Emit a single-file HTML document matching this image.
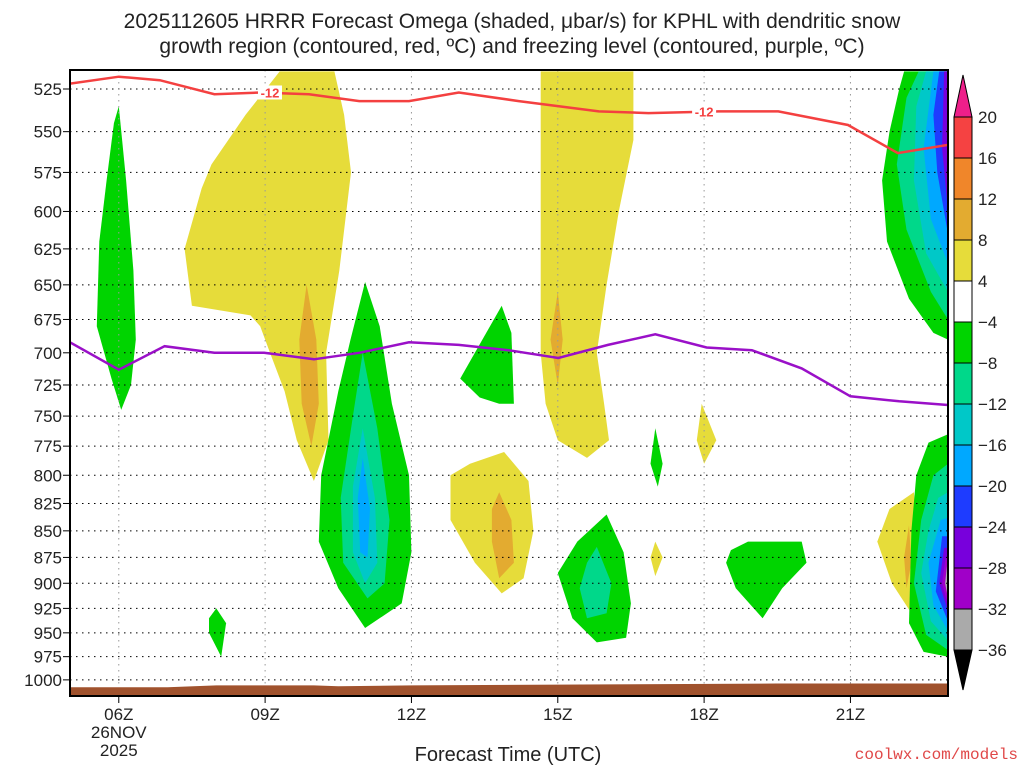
<!DOCTYPE html>
<html><head><meta charset="utf-8"><style>
body{margin:0;background:#fff;width:1024px;height:768px;overflow:hidden}
svg{display:block;font-family:"Liberation Sans",sans-serif}
</style></head><body>
<svg id="c" width="1024" height="768" viewBox="0 0 1024 768"></svg>
<script>
const yTicks=[525,550,575,600,625,650,675,700,725,750,775,800,825,850,875,900,925,950,975,1000];
const xTickHours=[6,9,12,15,18,21];
const xTickLabels=["06Z","09Z","12Z","15Z","18Z","21Z"];
const levels=[20,16,12,8,4,-4,-8,-12,-16,-20,-24,-28,-32,-36];
const colors=["#f54242","#f0862a","#e3ab30","#e6dc3a","#ffffff","#00d400","#00d88a","#00c8c8","#00a8ff","#1e3cff","#7800dc","#a000c8","#aaaaaa"];
const redHours=[5,6,6.84,7.96,8.9,9.9,10.93,11.95,12.97,14.2,15.84,16.86,18.3,19.52,20.95,21.97,23];
const redP=[522,518,520,528,527,528,532,532,527,532,538,539,538,538,546,563,558];
const purHours=[5,6,6.94,7.96,8.98,10,10.93,11.95,12.97,13.99,15.01,16.03,17.0,18.05,18.98,20,21,22,23];
const purP=[692,713,695,700,700,705,700,692,694,698,704,694,686,696,698,712,734,738,741];
const groundHours=[5,7,8,10,10.5,12,16,19.5,23];
const groundP=[1008,1008,1006,1006,1007,1006,1005,1004,1004];
// shaded omega regions: [colorIndex, [[hour,pressure],...]]
const regions=[
[5,[[6.0,535],[6.15,580],[6.3,640],[6.35,690],[6.25,725],[6.05,745],[5.85,720],[5.55,680],[5.6,620],[5.75,580],[5.9,545]]],
[3,[[9.5,515],[10.42,515],[10.62,540],[10.76,575],[10.52,640],[10.25,700],[10.3,770],[10.0,805],[9.65,770],[9.4,730],[9.1,700],[8.9,680],[8.7,672],[7.5,665],[7.35,625],[7.7,585],[7.9,570],[8.6,540],[9.3,515]]],
[2,[[9.85,650],[10.05,690],[10.1,740],[9.95,775],[9.75,740],[9.7,690]]],
[5,[[11.05,648],[11.35,680],[11.6,740],[11.95,800],[12.0,870],[11.8,920],[11.05,945],[10.5,905],[10.1,860],[10.15,800],[10.5,730],[10.75,690]]],
[6,[[11.0,700],[11.3,760],[11.55,840],[11.45,900],[11.1,915],[10.6,880],[10.55,820],[10.8,750]]],
[7,[[11.0,760],[11.25,820],[11.3,880],[11.05,900],[10.8,870],[10.8,810]]],
[8,[[11.0,785],[11.15,830],[11.1,875],[10.95,870],[10.9,820]]],
[5,[[8.0,925],[8.2,940],[8.1,975],[7.85,950],[7.85,935]]],
[3,[[13.2,790],[13.9,780],[14.4,805],[14.5,850],[14.3,895],[13.85,910],[13.3,880],[12.8,840],[12.8,800]]],
[2,[[13.8,815],[14.05,840],[14.1,880],[13.8,895],[13.65,860],[13.65,830]]],
[5,[[13.85,665],[14.05,685],[14.1,740],[13.8,740],[13.4,735],[13.0,720],[13.3,700]]],
[3,[[14.65,515],[16.55,515],[16.55,555],[16.25,600],[16.0,650],[15.8,700],[15.95,740],[16.05,770],[15.6,785],[15.0,770],[14.75,740],[14.65,700]]],
[2,[[15.0,655],[15.1,690],[15.0,725],[14.85,690]]],
[5,[[16.0,835],[16.35,870],[16.5,920],[16.4,955],[15.8,960],[15.3,935],[15.0,890],[15.4,860]]],
[6,[[15.8,865],[16.1,900],[16.0,930],[15.6,935],[15.45,905],[15.6,880]]],
[5,[[17.0,760],[17.15,790],[17.05,810],[16.9,790]]],
[3,[[17.0,860],[17.15,875],[17.0,893],[16.9,875]]],
[3,[[17.95,740],[18.25,770],[18.0,790],[17.85,770]]],
[5,[[18.9,860],[20.0,860],[20.1,880],[19.6,905],[19.2,935],[18.65,905],[18.45,880],[18.55,868]]],
[5,[[22.1,515],[23,515],[23,690],[22.7,685],[22.2,660],[21.75,620],[21.65,580],[21.8,550],[22.0,525]]],
[6,[[22.4,515],[23,515],[23,675],[22.65,655],[22.15,612],[21.95,570],[22.15,530]]],
[7,[[22.55,515],[23,515],[23,655],[22.55,628],[22.3,580],[22.35,535]]],
[8,[[22.7,515],[23,515],[23,635],[22.65,605],[22.5,560]]],
[9,[[22.82,515],[23,515],[23,615],[22.78,575],[22.7,540]]],
[10,[[22.92,515],[23,515],[23,600],[22.88,560]]],
[3,[[22.3,815],[22.4,870],[22.25,930],[21.85,900],[21.55,860],[21.8,830]]],
[2,[[22.2,845],[22.25,880],[22.15,905],[22.1,875]]],
[5,[[22.6,772],[23,765],[23,975],[22.5,970],[22.2,940],[22.25,850],[22.35,800]]],
[6,[[22.7,800],[23,790],[23,968],[22.55,952],[22.3,900],[22.45,840]]],
[7,[[22.8,820],[23,815],[23,958],[22.65,938],[22.45,890],[22.6,850]]],
[8,[[22.85,840],[23,838],[23,948],[22.7,922],[22.6,880]]],
[9,[[22.88,855],[23,855],[23,938],[22.75,908]]],
[10,[[22.92,866],[23,866],[23,928],[22.82,900]]],
[11,[[22.95,876],[23,874],[23,922],[22.88,900]]],
[12,[[22.98,883],[23,880],[23,915],[22.94,900]]]
];
const NS="http://www.w3.org/2000/svg";
const svg=document.getElementById('c');
const L=70,R=948,T=70,B=696;
const X=h=>L+(h-5)*(R-L)/18;
const Y=p=>89+917*Math.log(p/525);
function mk(t,a,parent){const e=document.createElementNS(NS,t);for(const k in a)e.setAttribute(k,a[k]);(parent||svg).appendChild(e);return e;}
const clip=mk('clipPath',{id:'pc'});mk('rect',{x:L,y:T,width:R-L,height:B-T},clip);
const g=mk('g',{'clip-path':'url(#pc)'});
regions.forEach(r=>{
 const d='M'+r[1].map(q=>X(q[0]).toFixed(1)+','+Y(q[1]).toFixed(1)).join('L')+'Z';
 const e=mk('path',{d:d,fill:colors[r[0]]},g);
 
 
});
yTicks.forEach(p=>{const e=mk('line',{x1:L,x2:R,y1:Y(p),y2:Y(p),stroke:'#000','stroke-width':1,'stroke-dasharray':'1.5 4.5'},g);
 });
xTickHours.forEach(h=>{const e=mk('line',{x1:X(h),x2:X(h),y1:T,y2:B,stroke:'#999','stroke-width':1,'stroke-dasharray':'1.5 4.5'},g);
 });
{let d='M'+X(groundHours[0])+','+B;groundHours.forEach((h,i)=>d+='L'+X(h).toFixed(1)+','+Y(groundP[i]).toFixed(1));d+='L'+X(groundHours[groundHours.length-1])+','+B+'Z';
 const e=mk('path',{d:d,fill:'#a0522d'},g);}
function line(hs,ps,col,name){const e=mk('polyline',{points:hs.map((h,i)=>X(h).toFixed(1)+','+Y(ps[i]).toFixed(1)).join(' '),fill:'none',stroke:col,'stroke-width':2.5},g);
 }
line(redHours,redP,'#f44040','dgz-minus12-contour');
line(purHours,purP,'#9a10c8','freezing-level-contour');
[[9.1,527],[18.0,538]].forEach(q=>{const x=X(q[0]),y=Y(q[1]);
 mk('rect',{x:x-12,y:y-7,width:24,height:14,fill:'#fff'},g);
 const t=mk('text',{x:x,y:y+5,'text-anchor':'middle','font-size':13,'font-weight':'bold',fill:'#f44040'},g);t.textContent='-12';
 });
const fr=mk('rect',{x:L,y:T,width:R-L,height:B-T,fill:'none',stroke:'#000','stroke-width':2});

yTicks.forEach(p=>{mk('line',{x1:L-7,x2:L,y1:Y(p),y2:Y(p),stroke:'#000'});
 const t=mk('text',{x:L-8,y:Y(p)+6,'text-anchor':'end','font-size':17,fill:'#222'});t.textContent=p;
 });
xTickHours.forEach((h,i)=>{mk('line',{x1:X(h),x2:X(h),y1:B,y2:B+7,stroke:'#000'});
 const t=mk('text',{x:X(h),y:720,'text-anchor':'middle','font-size':17,fill:'#222'});t.textContent=xTickLabels[i];
 });
[['26NOV',738],['2025',756]].forEach(a=>{const t=mk('text',{x:X(6),y:a[1],'text-anchor':'middle','font-size':17,fill:'#222'});t.textContent=a[0];
 });
const cx=954,cw=18,cTop=117,step=41;
levels.slice(0,-1).forEach((v,i)=>{const e=mk('rect',{x:cx,y:cTop+i*step,width:cw,height:step,fill:colors[i],stroke:'#000','stroke-width':1});
 });
levels.forEach((v,i)=>{const t=mk('text',{x:978,y:cTop+i*step+6,'font-size':17,fill:'#222'});t.textContent=(v<0?'\u2212':'')+Math.abs(v);
 });
const cEnd=cTop+(levels.length-1)*step;
const t1=mk('path',{d:`M${cx},${cTop}L${cx+cw/2},75L${cx+cw},${cTop}Z`,fill:'#ee1f8a',stroke:'#000'});

const t2=mk('path',{d:`M${cx},${cEnd}L${cx+cw/2},690L${cx+cw},${cEnd}Z`,fill:'#000',stroke:'#000'});

</script>
<div style="position:absolute;left:0;top:0;width:1024px;text-align:center;font-family:'Liberation Sans',sans-serif;font-size:21px;line-height:25px;color:#222;padding-top:9px">2025112605 HRRR Forecast Omega (shaded, &#956;bar/s) for KPHL with dendritic snow<br>growth region (contoured, red, &#186;C) and freezing level (contoured, purple, &#186;C)</div>
<div style="position:absolute;left:300px;top:744px;width:416px;text-align:center;font-family:'Liberation Sans',sans-serif;font-size:20px;color:#222">Forecast Time (UTC)</div>
<div style="position:absolute;right:6px;top:746px;font-family:'Liberation Mono',monospace;font-size:16px;color:#e04848">coolwx.com/models</div>
</body></html>
